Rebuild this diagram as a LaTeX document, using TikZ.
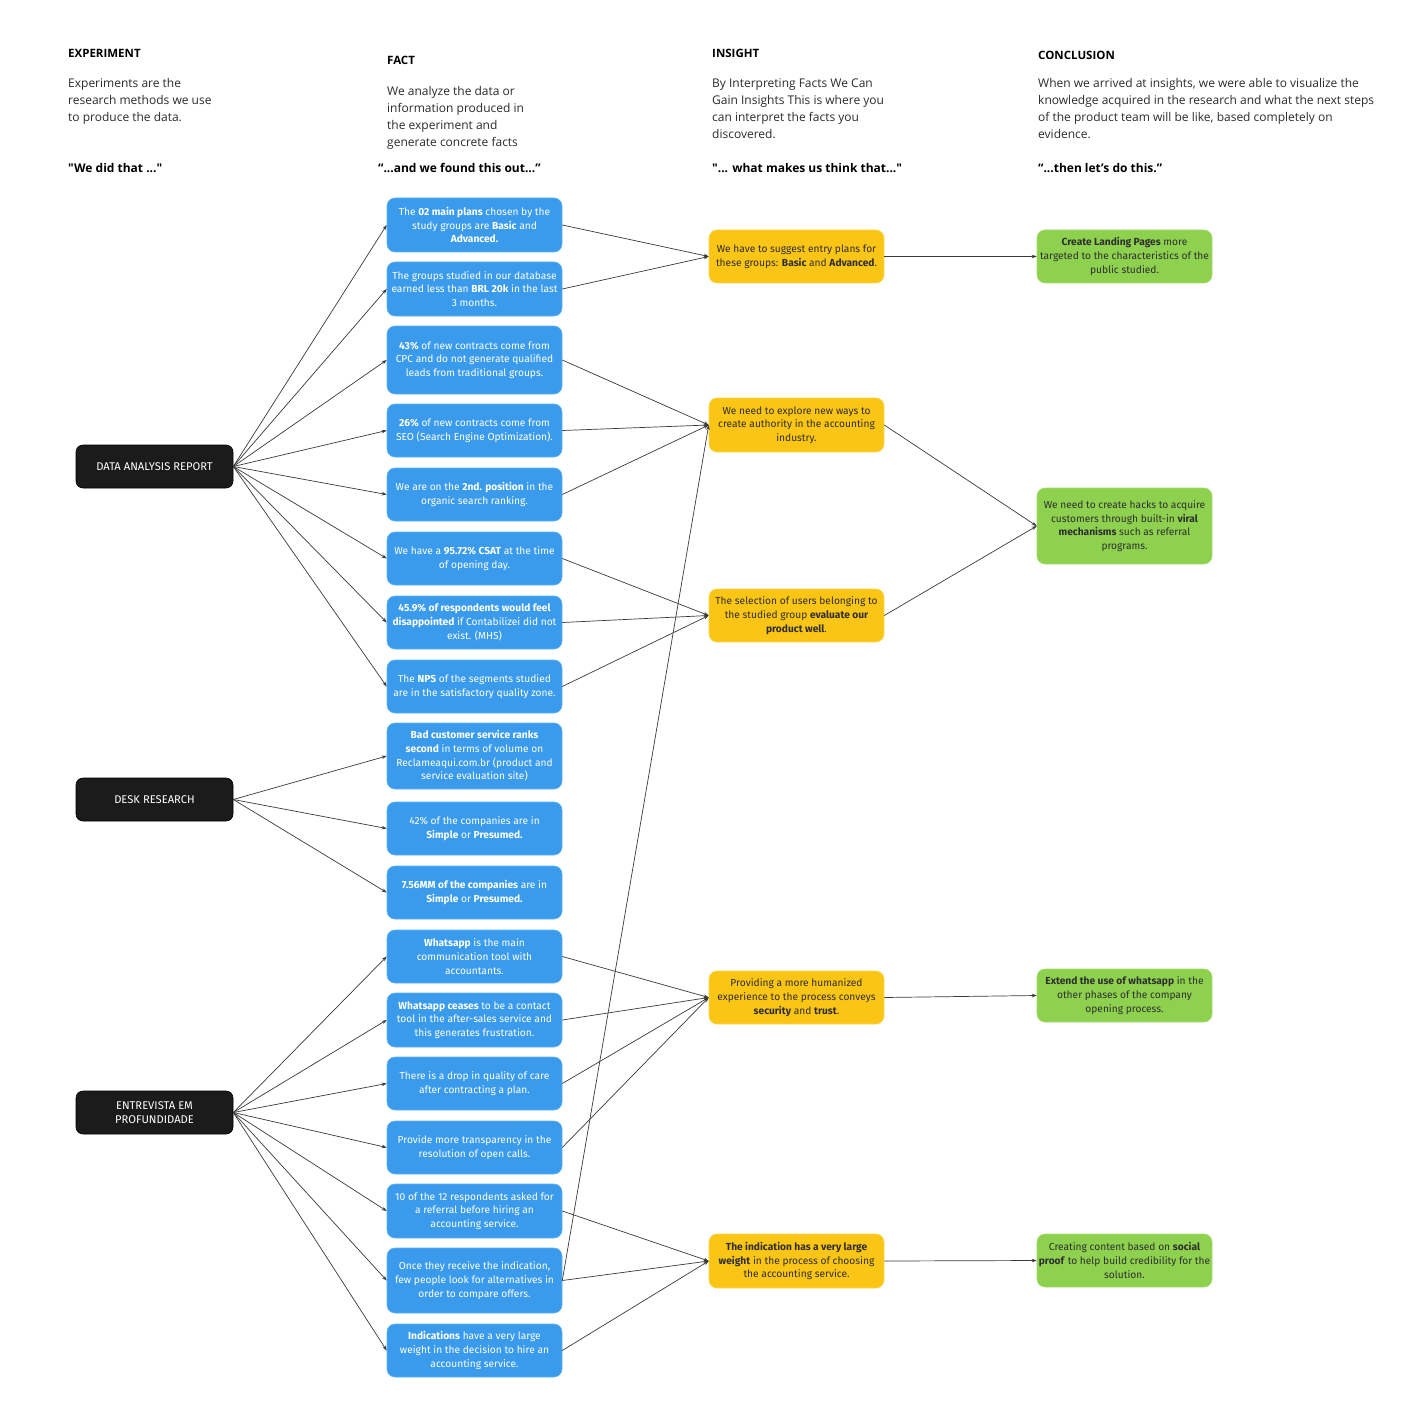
\documentclass[tikz,border=0pt]{standalone}
\usepackage{fontspec}
\setmainfont{Open Sans}[Ligatures=TeXOff]
\newfontfamily\boxfont{Fira Sans}
\usetikzlibrary{arrows.meta}
\definecolor{bluebox}{HTML}{3A9BEC}
\definecolor{blueedge}{HTML}{5DB2F5}
\definecolor{yellowbox}{HTML}{FAC514}
\definecolor{yellowedge}{HTML}{FCD64A}
\definecolor{greenbox}{HTML}{8ED14F}
\definecolor{greenedge}{HTML}{A3DC6D}
\definecolor{darkbox}{HTML}{1B1B1B}
\definecolor{boxtext}{HTML}{2E2E2E}
\definecolor{headtext}{HTML}{2B2B2B}
\definecolor{conncol}{HTML}{3A3A3A}
\begin{document}
\begin{tikzpicture}[x=1pt,y=-1pt,
  basebox/.style={rectangle, rounded corners=8pt, line width=0.6pt, minimum width=175pt, align=center, inner sep=0pt,
    font=\boxfont\fontsize{10.2}{13.7}\selectfont},
  factbox/.style={basebox, fill=bluebox, draw=blueedge, text=white},
  insightbox/.style={basebox, fill=yellowbox, draw=yellowedge, text=boxtext},
  conclbox/.style={basebox, fill=greenbox, draw=greenedge, text=boxtext},
  expbox/.style={rectangle, rounded corners=7pt, fill=darkbox, draw=black, line width=0.6pt, minimum width=157pt, minimum height=43pt,
    align=center, inner sep=0pt, text=white, font=\boxfont\fontsize{11.2}{13.5}\selectfont},
  headtitle/.style={anchor=north west, inner sep=0pt, text=black, font=\fontsize{11.5}{17}\selectfont\bfseries},
  headdesc/.style={anchor=north west, inner sep=0pt, align=left, text=headtext, font=\fontsize{12}{17}\selectfont},
  headquote/.style={anchor=north west, inner sep=0pt, text=black, font=\fontsize{12}{17}\selectfont\bfseries},
  conn/.style={draw=conncol, line width=0.7pt, -{Stealth[length=5pt,width=3.6pt]}}
]
\useasboundingbox[fill=white] (0,0) rectangle (1400,1412);

% ---- headers ----
\node[headtitle] (h1) at (68,49) {EXPERIMENT};
\node[headdesc] (d1) at (68,78) {Experiments are the\\research methods we use\\to produce the data.};
\node[headquote] (q1) at (68,163) {"We did that ..."};

\node[headtitle] (h2) at (387,56) {FACT};
\node[headdesc] (d2) at (387,86) {We analyze the data or\\information produced in\\the experiment and\\generate concrete facts};
\node[headquote] (q2) at (378,163) {“...and we found this out...”};

\node[headtitle] (h3) at (712,49) {INSIGHT};
\node[headdesc] (d3) at (712,78) {By Interpreting Facts We Can\\Gain Insights This is where you\\can interpret the facts you\\discovered.};
\node[headquote] (q3) at (712,163) {"... what makes us think that..."};

\node[headtitle] (h4) at (1038,51) {CONCLUSION};
\node[headdesc] (d4) at (1038,78) {When we arrived at insights, we were able to visualize the\\knowledge acquired in the research and what the next steps\\of the product team will be like, based completely on\\evidence.};
\node[headquote] (q4) at (1038,163) {“...then let’s do this.”};

% ---- experiments ----
\node[expbox] (dar) at (154.5,466.5) {DATA ANALYSIS REPORT};
\node[expbox] (desk) at (154.5,799.5) {DESK RESEARCH};
\node[expbox] (ent) at (154.5,1112.5) {ENTREVISTA EM\\PROFUNDIDADE};

% ---- facts ----
\node[factbox, minimum height=54pt] (b1) at (474.5,225) {The \textbf{02 main plans} chosen by the\\study groups are \textbf{Basic} and\\\textbf{Advanced.}};
\node[factbox, minimum height=54pt] (b2) at (474.5,289) {The groups studied in our database\\earned less than \textbf{BRL 20k} in the last\\3 months.};
\node[factbox, minimum height=68pt] (b3) at (474.5,360) {\textbf{43\%} of new contracts come from\\CPC and do not generate qualified\\leads from traditional groups.};
\node[factbox, minimum height=53pt] (b4) at (474.5,430.5) {\textbf{26\%} of new contracts come from\\SEO (Search Engine Optimization).};
\node[factbox, minimum height=53pt] (b5) at (474.5,494.5) {We are on the \textbf{2nd. position} in the\\organic search ranking.};
\node[factbox, minimum height=53pt] (b6) at (474.5,558.5) {We have a \textbf{95.72\% CSAT} at the time\\of opening day.};
\node[factbox, minimum height=53pt] (b7) at (474.5,622.5) {\textbf{45.9\% of respondents would feel}\\\textbf{disappointed} if Contabilizei did not\\exist. (MHS)};
\node[factbox, minimum height=53pt] (b8) at (474.5,686.5) {The \textbf{NPS} of the segments studied\\are in the satisfactory quality zone.};
\node[factbox, minimum height=66pt] (b9) at (474.5,756) {\textbf{Bad customer service ranks}\\\textbf{second} in terms of volume on\\Reclameaqui.com.br (product and\\service evaluation site)};
\node[factbox, minimum height=53pt] (b10) at (474.5,828.5) {42\% of the companies are in\\\textbf{Simple} or \textbf{Presumed.}};
\node[factbox, minimum height=53pt] (b11) at (474.5,892.5) {\textbf{7.56MM of the companies} are in\\\textbf{Simple} or \textbf{Presumed.}};
\node[factbox, minimum height=53pt] (b12) at (474.5,956.5) {\textbf{Whatsapp} is the main\\communication tool with\\accountants.};
\node[factbox, minimum height=54pt] (b13) at (474.5,1020) {\textbf{Whatsapp ceases} to be a contact\\tool in the after-sales service and\\this generates frustration.};
\node[factbox, minimum height=53pt] (b14) at (474.5,1083.5) {There is a drop in quality of care\\after contracting a plan.};
\node[factbox, minimum height=53pt] (b15) at (474.5,1147.5) {Provide more transparency in the\\resolution of open calls.};
\node[factbox, minimum height=54pt] (b16) at (474.5,1211) {10 of the 12 respondents asked for\\a referral before hiring an\\accounting service.};
\node[factbox, minimum height=65pt] (b17) at (474.5,1280.5) {Once they receive the indication,\\few people look for alternatives in\\order to compare offers.};
\node[factbox, minimum height=53pt] (b18) at (474.5,1350.5) {\textbf{Indications} have a very large\\weight in the decision to hire an\\accounting service.};

% ---- insights ----
\node[insightbox, minimum height=53pt] (y1) at (796.5,256.5) {We have to suggest entry plans for\\these groups: \textbf{Basic} and \textbf{Advanced}.};
\node[insightbox, minimum height=54pt] (y2) at (796.5,425) {We need to explore new ways to\\create authority in the accounting\\industry.};
\node[insightbox, minimum height=53pt] (y3) at (796.5,615.5) {The selection of users belonging to\\the studied group \textbf{evaluate our}\\\textbf{product well}.};
\node[insightbox, minimum height=53pt] (y4) at (796.5,997.5) {Providing a more humanized\\experience to the process conveys\\\textbf{security} and \textbf{trust}.};
\node[insightbox, minimum height=54pt] (y5) at (796.5,1261) {\textbf{The indication has a very large}\\\textbf{weight} in the process of choosing\\the accounting service.};

% ---- conclusions ----
\node[conclbox, minimum height=53pt] (g1) at (1124.5,256.5) {\textbf{Create Landing Pages} more\\targeted to the characteristics of the\\public studied.};
\node[conclbox, minimum height=76pt] (g2) at (1124.5,526) {We need to create hacks to acquire\\customers through built-in \textbf{viral}\\\textbf{mechanisms} such as referral\\programs.};
\node[conclbox, minimum height=53pt] (g3) at (1124.5,995.5) {\textbf{Extend the use of whatsapp} in the\\other phases of the company\\opening process.};
\node[conclbox, minimum height=53pt] (g4) at (1124.5,1260.5) {Creating content based on \textbf{social}\\\textbf{proof} to help build credibility for the\\solution.};

% ---- connectors: experiment -> fact ----
\foreach \t in {b1,b2,b3,b4,b5,b6,b7,b8} \draw[conn] (dar.east) -- (\t.west);
\foreach \t in {b9,b10,b11} \draw[conn] (desk.east) -- (\t.west);
\foreach \t in {b12,b13,b14,b15,b16,b17,b18} \draw[conn] (ent.east) -- (\t.west);

% ---- fact -> insight ----
\foreach \s in {b1,b2} \draw[conn] (\s.east) -- (y1.west);
\foreach \s in {b3,b4,b5,b17} \draw[conn] (\s.east) -- (y2.west);
\foreach \s in {b6,b7,b8} \draw[conn] (\s.east) -- (y3.west);
\foreach \s in {b12,b13,b14,b15} \draw[conn] (\s.east) -- (y4.west);
\foreach \s in {b16,b17,b18} \draw[conn] (\s.east) -- (y5.west);

% ---- insight -> conclusion ----
\draw[conn] (y1.east) -- (g1.west);
\draw[conn] (y2.east) -- (g2.west);
\draw[conn] (y3.east) -- (g2.west);
\draw[conn] (y4.east) -- (g3.west);
\draw[conn] (y5.east) -- (g4.west);
\end{tikzpicture}
\end{document}
